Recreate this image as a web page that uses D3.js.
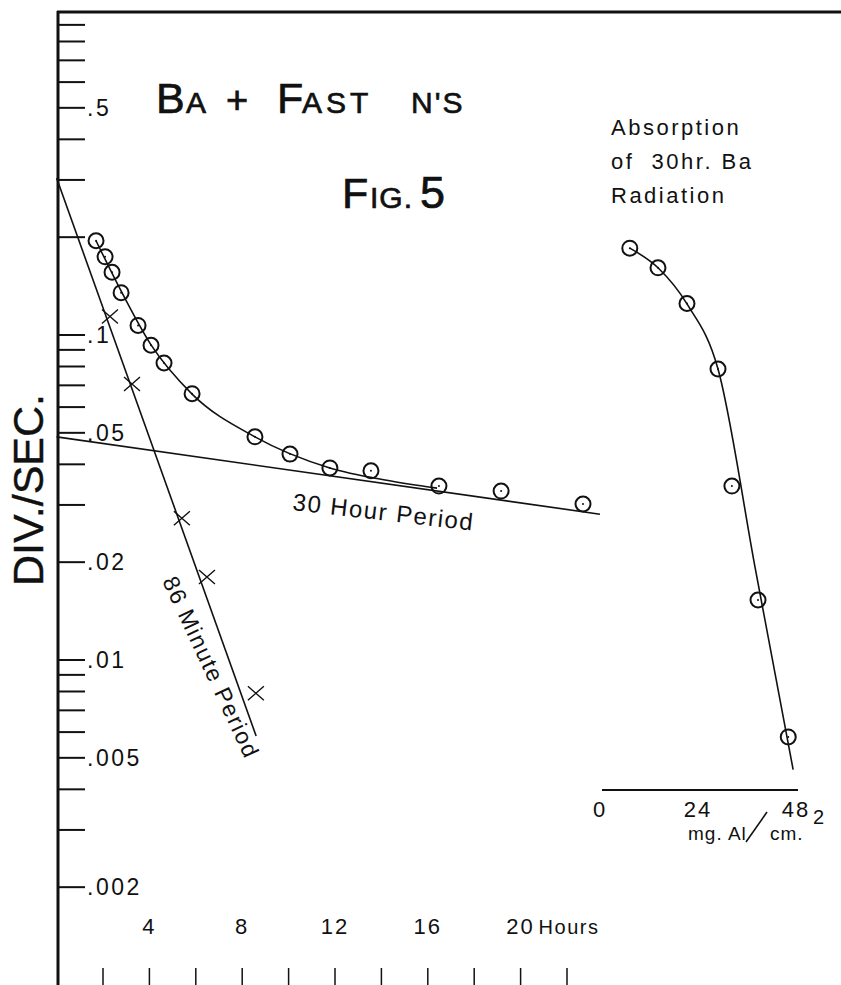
<!DOCTYPE html>
<html>
<head>
<meta charset="utf-8">
<script src="https://cdn.jsdelivr.net/npm/d3@7"></script>
<style>
  html, body { margin: 0; padding: 0; background: #fff; }
  svg { display: block; }
  text { font-family: "Liberation Sans", Arial, sans-serif; fill: #111; }
  .ink { stroke: #111; stroke-width: 0.7; }
  .ink2 { stroke: #111; stroke-width: 0.4; }
</style>
</head>
<body>
<svg id="chart" width="841" height="985"></svg>
<script>
// ---------- data ----------
// Decay of Ba activity, total (circles)
const decayHours = [1.70, 2.09, 2.39, 2.78, 3.51, 4.07, 4.63, 5.84, 8.55, 10.06, 11.78, 13.55, 16.48, 19.16, 22.69];
const decayRates = [0.195, 0.174, 0.156, 0.135, 0.107, 0.093, 0.082, 0.066, 0.0486, 0.043, 0.039, 0.0382, 0.0343, 0.0331, 0.0302];
// Short-period component (crosses)
const shortHours = [2.30, 3.25, 5.40, 6.48, 8.59];
const shortRates = [0.114, 0.0707, 0.0273, 0.018, 0.0079];
// Fitted curve through total activity
const curveHours = [1.70, 2.78, 4.07, 5.84, 8.55, 11.78, 14.16, 16.40];
const curveRates = [0.195, 0.1366, 0.0932, 0.0658, 0.0486, 0.039, 0.0358, 0.0338];
// 30 hour period line
const longLineHours = [0, 23.42];
const longLineRates = [0.0486, 0.0281];
// 86 minute period line
const shortLineHours = [0, 8.6];
const shortLineRates = [0.304, 0.00584];
// Absorption of 30 hr Ba radiation
const absMg = [7.3, 14.2, 21.3, 28.9, 32.3, 38.7, 46.1];
const absRates = [0.185, 0.161, 0.125, 0.0786, 0.0343, 0.0153, 0.0058];
const absCurveMg = [7.3, 14.2, 21.3, 28.9, 38.1, 47.3];
const absCurveRates = [0.185, 0.161, 0.1246, 0.0786, 0.0189, 0.0046];
// Ticks
const yTicks = [0.9, 0.8, 0.7, 0.6, 0.5, 0.4, 0.3, 0.2, 0.1, 0.09, 0.08, 0.07, 0.06, 0.05, 0.04, 0.03, 0.02,
                0.01, 0.009, 0.008, 0.007, 0.006, 0.005, 0.004, 0.003, 0.002];
const yTickLabels = [[0.5, ".5"], [0.1, ".1"], [0.05, ".05"], [0.02, ".02"], [0.01, ".01"], [0.005, ".005"], [0.002, ".002"]];
const xTicks = [2, 4, 6, 8, 10, 12, 14, 16, 18, 20, 22];
const xTickLabels = [4, 8, 12, 16, 20];
const absTickLabels = [0, 24, 48];

// ---------- scales ----------
const svg = d3.select("#chart");
const axisX = 58;
const x = d3.scaleLinear().domain([0, 20]).range([56.6, 56.6 + 23.2 * 20]);
const y = d3.scaleLog().domain([1, 0.001]).range([10, 985]);
const xa = d3.scaleLinear().domain([0, 48]).range([600, 796]);

// ---------- frame ----------
svg.append("line").attr("x1", axisX - 1).attr("x2", 841).attr("y1", 12).attr("y2", 12)
  .attr("stroke", "#111").attr("stroke-width", 3);
svg.append("line").attr("x1", axisX).attr("x2", axisX).attr("y1", 11).attr("y2", 985)
  .attr("stroke", "#111").attr("stroke-width", 3);

// y ticks
svg.append("g").selectAll("line").data(yTicks).join("line")
  .attr("x1", axisX).attr("x2", axisX + 27)
  .attr("y1", d => y(d)).attr("y2", d => y(d))
  .attr("stroke", "#111").attr("stroke-width", 2);
svg.append("g").selectAll("text").data(yTickLabels).join("text")
  .attr("x", axisX + 29).attr("y", d => y(d[0]) + 8)
  .attr("font-size", 23).attr("letter-spacing", 2.5)
  .text(d => d[1]);

// y label
svg.append("text").attr("class", "ink2")
  .attr("transform", "translate(43,490) rotate(-90)")
  .attr("text-anchor", "middle").attr("font-size", 43)
  .text("DIV./SEC.");

// x ticks
svg.append("g").selectAll("line").data(xTicks).join("line")
  .attr("x1", d => x(d)).attr("x2", d => x(d))
  .attr("y1", 968).attr("y2", 985)
  .attr("stroke", "#111").attr("stroke-width", 1.5);
svg.append("g").selectAll("text").data(xTickLabels).join("text")
  .attr("x", d => x(d)).attr("y", 934)
  .attr("text-anchor", "middle").attr("font-size", 22).attr("letter-spacing", 2)
  .text(d => d);
svg.append("text").attr("x", x(20) + 18).attr("y", 934).attr("font-size", 20).attr("letter-spacing", 1.5)
  .text("Hours");

// ---------- lines ----------
const lineGen = (xs) => d3.line().x(d => xs(d[0])).y(d => y(d[1]));
svg.append("path")
  .attr("d", lineGen(x)(longLineHours.map((h, i) => [h, longLineRates[i]])))
  .attr("fill", "none").attr("stroke", "#111").attr("stroke-width", 1.6);
svg.append("path")
  .attr("d", lineGen(x)(shortLineHours.map((h, i) => [h, shortLineRates[i]])))
  .attr("fill", "none").attr("stroke", "#111").attr("stroke-width", 1.6);
svg.append("path")
  .attr("d", lineGen(x).curve(d3.curveMonotoneX)(curveHours.map((h, i) => [h, curveRates[i]])))
  .attr("fill", "none").attr("stroke", "#111").attr("stroke-width", 1.6);

// circles
const circ = svg.append("g").selectAll("g").data(decayHours.map((h, i) => [h, decayRates[i]])).join("g")
  .attr("transform", d => `translate(${x(d[0])},${y(d[1])})`);
circ.append("circle").attr("r", 7.5).attr("fill", "none").attr("stroke", "#111").attr("stroke-width", 2);
circ.append("circle").attr("r", 1).attr("fill", "#111");

// crosses
const cr = svg.append("g").selectAll("g").data(shortHours.map((h, i) => [h, shortRates[i]])).join("g")
  .attr("transform", d => `translate(${x(d[0])},${y(d[1])})`);
cr.append("path").attr("d", "M-8,-7L8,7M-8,7L8,-7").attr("stroke", "#111").attr("stroke-width", 1.4);

// line labels
svg.append("text").attr("transform", "translate(292,510) rotate(6.5)")
  .attr("font-size", 24).attr("letter-spacing", 1.5).text("30 Hour Period");
svg.append("text").attr("transform", "translate(162,581) rotate(65)")
  .attr("font-size", 23).attr("letter-spacing", 1.5).text("86 Minute Period");

// ---------- titles ----------
const t1 = svg.append("text").attr("class", "ink").attr("y", 113);
t1.append("tspan").attr("x", 156).attr("font-size", 43).text("B");
t1.append("tspan").attr("x", 186).attr("font-size", 30).text("A");
t1.append("tspan").attr("x", 226).attr("font-size", 38).text("+");
t1.append("tspan").attr("x", 277).attr("font-size", 43).text("F");
t1.append("tspan").attr("x", 302).attr("font-size", 30).attr("letter-spacing", 4).text("AST");
t1.append("tspan").attr("x", 411).attr("font-size", 30).attr("letter-spacing", 2).text("N'S");

const t2 = svg.append("text").attr("class", "ink").attr("y", 208);
t2.append("tspan").attr("x", 342).attr("font-size", 43).text("F");
t2.append("tspan").attr("x", 370).attr("font-size", 30).attr("letter-spacing", 1).text("IG.");
t2.append("tspan").attr("x", 420).attr("font-size", 45).text("5");

const absLines = ["Absorption", "of  30hr. Ba", "Radiation"];
svg.append("g").selectAll("text").data(absLines).join("text")
  .attr("x", 611).attr("y", (d, i) => 135 + i * 34)
  .attr("font-size", 22).attr("letter-spacing", 2.5)
  .attr("xml:space", "preserve").style("white-space", "pre")
  .text(d => d);

// ---------- absorption panel ----------
svg.append("line").attr("x1", 602).attr("x2", 798).attr("y1", 790).attr("y2", 790)
  .attr("stroke", "#111").attr("stroke-width", 2);
svg.append("g").selectAll("text").data(absTickLabels).join("text")
  .attr("x", d => xa(d)).attr("y", 817).attr("text-anchor", "middle")
  .attr("font-size", 22).attr("letter-spacing", 2).text(d => d);
svg.append("text").attr("x", 688).attr("y", 840).attr("font-size", 19).attr("letter-spacing", 1).text("mg. Al");
svg.append("line").attr("x1", 746).attr("y1", 842).attr("x2", 767).attr("y2", 812)
  .attr("stroke", "#111").attr("stroke-width", 1.6);
svg.append("text").attr("x", 770).attr("y", 840).attr("font-size", 19).attr("letter-spacing", 1).text("cm.");
svg.append("text").attr("x", 813).attr("y", 824).attr("font-size", 20).text("2");

svg.append("path")
  .attr("d", lineGen(xa).curve(d3.curveMonotoneX)(absCurveMg.map((m, i) => [m, absCurveRates[i]])))
  .attr("fill", "none").attr("stroke", "#111").attr("stroke-width", 1.6);
const ac = svg.append("g").selectAll("g").data(absMg.map((m, i) => [m, absRates[i]])).join("g")
  .attr("transform", d => `translate(${xa(d[0])},${y(d[1])})`);
ac.append("circle").attr("r", 7.5).attr("fill", "none").attr("stroke", "#111").attr("stroke-width", 2);
ac.append("circle").attr("r", 1).attr("fill", "#111");
</script>
</body>
</html>
